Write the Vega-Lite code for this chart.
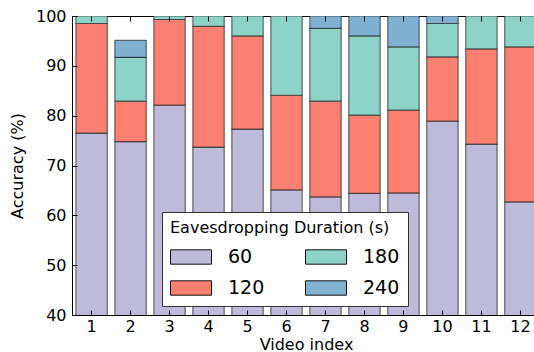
{
  "$schema": "https://vega.github.io/schema/vega-lite/v6.json",
  "width": 468,
  "height": 299,
  "autosize": "none",
  "padding": {"left": 72, "top": 16, "right": 0, "bottom": 37},
  "config": {
    "font": "DejaVu Sans",
    "view": {"stroke": "black", "strokeWidth": 1}
  },
  "data": {
    "values": [
      {"video": "1", "dur": 60, "val": 76.5}, {"video": "1", "dur": 120, "val": 22.0}, {"video": "1", "dur": 180, "val": 1.5},
      {"video": "2", "dur": 60, "val": 74.8}, {"video": "2", "dur": 120, "val": 8.1}, {"video": "2", "dur": 180, "val": 8.8}, {"video": "2", "dur": 240, "val": 3.4},
      {"video": "3", "dur": 60, "val": 82.1}, {"video": "3", "dur": 120, "val": 17.2}, {"video": "3", "dur": 180, "val": 0.7},
      {"video": "4", "dur": 60, "val": 73.7}, {"video": "4", "dur": 120, "val": 24.2}, {"video": "4", "dur": 180, "val": 2.1},
      {"video": "5", "dur": 60, "val": 77.3}, {"video": "5", "dur": 120, "val": 18.7}, {"video": "5", "dur": 180, "val": 4.0},
      {"video": "6", "dur": 60, "val": 65.1}, {"video": "6", "dur": 120, "val": 19.0}, {"video": "6", "dur": 180, "val": 15.9},
      {"video": "7", "dur": 60, "val": 63.7}, {"video": "7", "dur": 120, "val": 19.2}, {"video": "7", "dur": 180, "val": 14.6}, {"video": "7", "dur": 240, "val": 2.5},
      {"video": "8", "dur": 60, "val": 64.4}, {"video": "8", "dur": 120, "val": 15.7}, {"video": "8", "dur": 180, "val": 15.9}, {"video": "8", "dur": 240, "val": 4.0},
      {"video": "9", "dur": 60, "val": 64.5}, {"video": "9", "dur": 120, "val": 16.6}, {"video": "9", "dur": 180, "val": 12.7}, {"video": "9", "dur": 240, "val": 6.2},
      {"video": "10", "dur": 60, "val": 78.9}, {"video": "10", "dur": 120, "val": 12.9}, {"video": "10", "dur": 180, "val": 6.7}, {"video": "10", "dur": 240, "val": 1.5},
      {"video": "11", "dur": 60, "val": 74.3}, {"video": "11", "dur": 120, "val": 19.1}, {"video": "11", "dur": 180, "val": 6.6},
      {"video": "12", "dur": 60, "val": 62.7}, {"video": "12", "dur": 120, "val": 31.1}, {"video": "12", "dur": 180, "val": 6.2}
    ]
  },
  "resolve": {"axis": {"x": "independent", "y": "independent"}},
  "layer": [
    {
      "mark": {"type": "bar", "clip": true, "stroke": "#222", "strokeWidth": 1.2, "strokeOpacity": 0.65},
      "encoding": {
        "x": {
          "field": "video", "type": "ordinal", "sort": null,
          "scale": {"paddingInner": 0.196, "paddingOuter": 0.1},
          "axis": {
            "title": "Video index", "labelAngle": 0, "labelFontSize": 16, "titleFontSize": 16,
            "titleFontWeight": "normal", "labelColor": "black", "titleColor": "black", "zindex": 1,
            "tickSize": -5, "tickColor": "black", "domain": false, "labelPadding": 8, "titlePadding": 2, "grid": false
          }
        },
        "y": {
          "field": "val", "type": "quantitative", "stack": "zero",
          "scale": {"domain": [40, 100], "nice": false, "zero": false},
          "axis": {
            "title": "Accuracy (%)", "values": [40, 50, 60, 70, 80, 90, 100], "labelFontSize": 16, "titleFontSize": 16,
            "titleFontWeight": "normal", "labelColor": "black", "titleColor": "black", "zindex": 1,
            "tickSize": -5, "tickColor": "black", "domain": false, "labelPadding": 11, "titlePadding": 10, "grid": false
          }
        },
        "order": {"field": "dur", "type": "quantitative", "sort": "ascending"},
        "color": {
          "field": "dur", "type": "nominal",
          "scale": {"domain": [60, 180, 120, 240], "range": ["#bebada", "#8dd3c7", "#fb8072", "#80b1d3"]},
          "legend": {
            "title": "Eavesdropping Duration (s)", "titleLimit": 400,
            "orient": "none", "legendX": 90, "legendY": 196, "zindex": 2,
            "columns": 2, "direction": "horizontal",
            "titleFontSize": 16, "titleFontWeight": "normal", "titleColor": "black", "titlePadding": 0,
            "labelFontSize": 19, "labelColor": "black", "labelOffset": 16,
            "symbolType": "M-1,-0.35H1V0.35H-1Z", "symbolSize": 1681,
            "symbolStrokeColor": "#111", "symbolStrokeWidth": 1, "symbolOpacity": 1,
            "columnPadding": 38, "rowPadding": -3,
            "padding": 8, "fillColor": "white", "strokeColor": "#333", "cornerRadius": 0
          }
        }
      }
    },
    {
      "mark": {"type": "bar", "opacity": 0, "clip": true},
      "encoding": {
        "x": {
          "field": "video", "type": "ordinal", "sort": null,
          "axis": {"orient": "top", "title": null, "labels": false, "tickSize": -5, "tickColor": "black", "domain": false, "grid": false, "zindex": 1}
        },
        "y": {
          "field": "val", "type": "quantitative", "stack": "zero",
          "axis": {"orient": "right", "title": null, "labels": false, "values": [40, 50, 60, 70, 80, 90, 100], "tickSize": -5, "tickColor": "black", "domain": false, "grid": false, "zindex": 1}
        }
      }
    }
  ]
}
